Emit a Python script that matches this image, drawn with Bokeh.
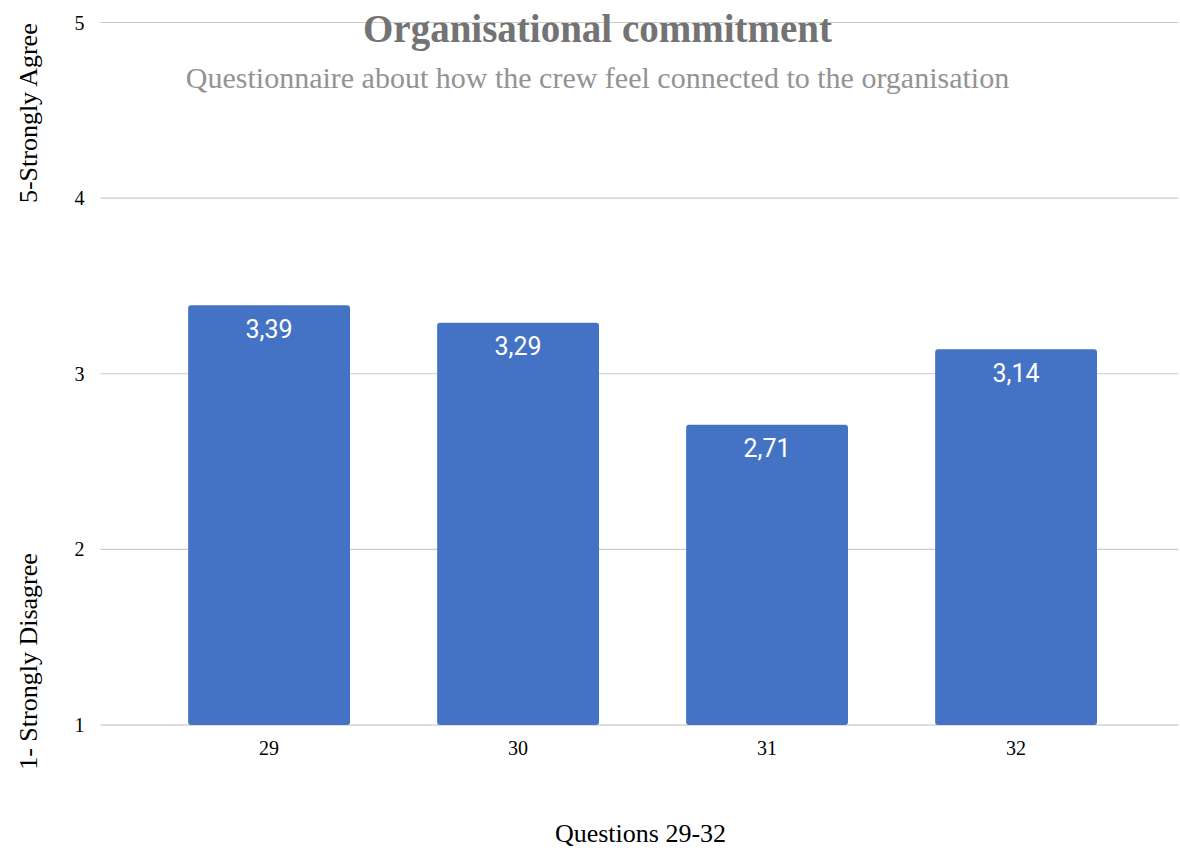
import math
from bokeh.plotting import figure
from bokeh.models import ColumnDataSource, Range1d, FixedTicker, Label
from bokeh.core.properties import value
from bokeh.embed import file_html
from bokeh.resources import INLINE

categories = ["29", "30", "31", "32"]
scores = [3.39, 3.29, 2.71, 3.14]
score_labels = ["3,39", "3,29", "2,71", "3,14"]
y_ticks = [1, 2, 3, 4, 5]

title_text = "Organisational commitment"
subtitle_text = "Questionnaire about how the crew feel connected to the organisation"
x_title = "Questions 29-32"
y_top_label = "5-Strongly Agree"
y_bottom_label = "1- Strongly Disagree"

SERIF = "Liberation Serif"
BAR = "#4472C4"

# ---- layout (canvas pixels) ----
W, H = 1180, 850
AREA_LEFT_PX, AREA_RIGHT_PX = 100, 1178     # plotting area (grid extent)
BASE_PX, TOP_PX = 724.5, 22                  # pixel rows of y=1 and y=5
X_LO = -0.677                                # data x at AREA_LEFT_PX
PX_PER_X = 249.0
PX_PER_Y = (BASE_PX - TOP_PX) / (y_ticks[-1] - y_ticks[0])
X_HI = X_LO + (AREA_RIGHT_PX - AREA_LEFT_PX) / PX_PER_X


def dx(px):
    return X_LO + (px - AREA_LEFT_PX) / PX_PER_X


def dy(py):
    return y_ticks[0] + (BASE_PX - py) / PX_PER_Y


xs = list(range(len(categories)))
src = ColumnDataSource(dict(x=xs, top=scores, lab=score_labels))

p = figure(width=W, height=H, output_backend="svg", toolbar_location=None,
           x_range=Range1d(dx(0), dx(W)), y_range=Range1d(dy(H), dy(0)),
           min_border=0)
p.outline_line_color = None
p.background_fill_color = "white"
p.border_fill_color = "white"
p.xgrid.visible = False
p.ygrid.visible = False

# grid lines across the plotting area only
grid_colors = ["#bdbdbd"] + ["#cccccc"] * (len(y_ticks) - 1)
p.segment(x0=[X_LO] * len(y_ticks), x1=[X_HI] * len(y_ticks),
          y0=y_ticks, y1=y_ticks, line_color=grid_colors, line_width=1.2)

p.vbar(x="x", top="top", bottom=y_ticks[0], width=0.65, source=src,
       fill_color=BAR, line_color=None, border_radius=3)
p.text(x="x", y="top", text="lab", source=src, y_offset=23,
       text_align="center", text_baseline="middle", text_color="white",
       text_font=value("Roboto"), text_font_size="25px")

# axes drawn at fixed positions inside the full-canvas frame
p.xaxis.fixed_location = y_ticks[0]
p.xaxis.ticker = FixedTicker(ticks=xs)
p.xaxis.major_label_overrides = {i: c for i, c in enumerate(categories)}
p.xaxis.axis_line_color = None
p.xaxis.major_tick_line_color = None
p.xaxis.minor_tick_line_color = None
p.xaxis.major_label_text_font = SERIF
p.xaxis.major_label_text_font_size = "20px"
p.xaxis.major_label_text_color = "black"
p.xaxis.major_label_standoff = 10

p.yaxis.fixed_location = X_LO
p.yaxis.ticker = FixedTicker(ticks=y_ticks)
p.yaxis.axis_line_color = None
p.yaxis.major_tick_line_color = None
p.yaxis.minor_tick_line_color = None
p.yaxis.major_label_text_font = SERIF
p.yaxis.major_label_text_font_size = "20px"
p.yaxis.major_label_text_color = "black"
p.yaxis.major_label_standoff = 10

# titles
p.add_layout(Label(x=dx(597), y=dy(28), text=title_text, text_align="center",
                   text_baseline="middle", text_font=SERIF, text_font_style="bold",
                   text_font_size="39px", text_color="#737373"))
p.add_layout(Label(x=dx(597), y=dy(77), text=subtitle_text, text_align="center",
                   text_baseline="middle", text_font=SERIF,
                   text_font_size="30px", text_color="#939393"))
p.add_layout(Label(x=dx(640), y=dy(833), text=x_title, text_align="center",
                   text_baseline="middle", text_font=SERIF,
                   text_font_size="26px", text_color="black"))

# side labels
p.add_layout(Label(x=dx(28), y=dy(112), text=y_top_label, angle=math.pi / 2,
                   text_align="center", text_baseline="middle", text_font=SERIF,
                   text_font_size="26px", text_color="black"))
p.add_layout(Label(x=dx(28), y=dy(661), text=y_bottom_label, angle=math.pi / 2,
                   text_align="center", text_baseline="middle", text_font=SERIF,
                   text_font_size="26px", text_color="black"))

open("out.html", "w").write(file_html(p, INLINE))
